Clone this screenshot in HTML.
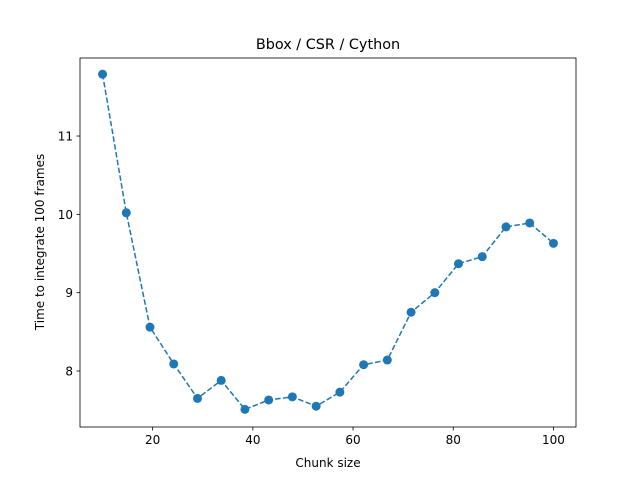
<!DOCTYPE html>
<html><head><meta charset="utf-8"><style>
body{margin:0;background:#fff;font-family:"Liberation Sans","DejaVu Sans",sans-serif}
svg text{font-family:"DejaVu Sans","Liberation Sans",sans-serif;fill:#000}
</style></head><body>
<svg id="c" width="640" height="480" xmlns="http://www.w3.org/2000/svg">
<rect x="0" y="0" width="640" height="480" fill="#fff"/>
<text x="328" y="49" font-size="14.4" text-anchor="middle">Bbox / CSR / Cython</text>
<text x="328" y="467" font-size="12" text-anchor="middle">Chunk size</text>
<text transform="translate(44,242) rotate(-90)" font-size="12" text-anchor="middle">Time to integrate 100 frames</text>
<g id="plot"></g>
<rect x="80" y="58" width="496" height="369" fill="none" stroke="#000" stroke-width="0.8"/>
</svg>
<script>
const chunkSizes=[10,14.74,19.47,24.21,28.95,33.68,38.42,43.16,47.89,52.63,57.37,62.11,66.84,71.58,76.32,81.05,85.79,90.53,95.26,100];
const times=[11.79,10.02,8.56,8.09,7.65,7.88,7.51,7.63,7.67,7.55,7.73,8.08,8.14,8.75,9.00,9.37,9.46,9.84,9.89,9.63];
const xTicks=[20,40,60,80,100];
const yTicks=[8,9,10,11];
const L=80,R=576,T=58,B=427;
const xmin=5.5,xmax=104.5,ymin=7.285,ymax=11.996;
const xs=v=>L+(v-xmin)/(xmax-xmin)*(R-L);
const ys=v=>B-(v-ymin)/(ymax-ymin)*(B-T);
const NS="http://www.w3.org/2000/svg";
const g=document.getElementById('plot');
function mk(t,a){const e=document.createElementNS(NS,t);for(const k in a)e.setAttribute(k,a[k]);g.appendChild(e);return e;}
xTicks.forEach(v=>{
const l=mk('line',{x1:xs(v),x2:xs(v),y1:B,y2:B+3.5,stroke:'#000','stroke-width':0.8});


const t=mk('text',{x:xs(v),y:B+17,'font-size':12,'text-anchor':'middle'});t.textContent=v;


});
yTicks.forEach(v=>{
const l=mk('line',{x1:L-3.5,x2:L,y1:ys(v),y2:ys(v),stroke:'#000','stroke-width':0.8});


const t=mk('text',{x:L-7,y:ys(v)+4.5,'font-size':12,'text-anchor':'end'});t.textContent=v;


});
const pts=chunkSizes.map((c,i)=>xs(c)+','+ys(times[i])).join(' ');
const line=mk('polyline',{points:pts,fill:'none',stroke:'#1f77b4','stroke-width':1.5,'stroke-dasharray':'5.5,2.4'});


chunkSizes.forEach((c,i)=>{
const p=mk('circle',{cx:xs(c),cy:ys(times[i]),r:4.5,fill:'#1f77b4'});


});
</script>
</body></html>
